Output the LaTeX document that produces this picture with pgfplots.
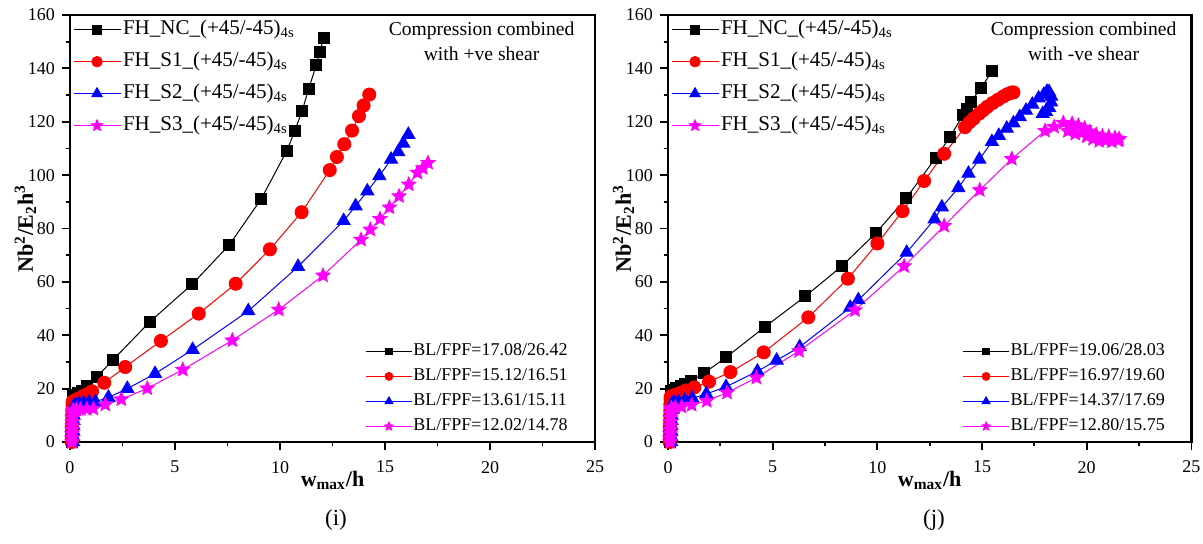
\documentclass[border=0pt]{standalone}
\usepackage{pgfplots}
\pgfplotsset{compat=1.18}
\usepackage{fontspec}
\setmainfont{Liberation Serif}

\definecolor{mag}{RGB}{255,0,255}
\definecolor{pred}{RGB}{255,0,0}
\definecolor{pblue}{RGB}{0,0,255}

% filled five-point star
\pgfdeclareplotmark{fstar}{%
  \pgfpathmoveto{\pgfpointpolar{90}{\pgfplotmarksize}}%
  \pgfpathlineto{\pgfpointpolar{126}{0.45\pgfplotmarksize}}%
  \pgfpathlineto{\pgfpointpolar{162}{\pgfplotmarksize}}%
  \pgfpathlineto{\pgfpointpolar{198}{0.45\pgfplotmarksize}}%
  \pgfpathlineto{\pgfpointpolar{234}{\pgfplotmarksize}}%
  \pgfpathlineto{\pgfpointpolar{270}{0.45\pgfplotmarksize}}%
  \pgfpathlineto{\pgfpointpolar{306}{\pgfplotmarksize}}%
  \pgfpathlineto{\pgfpointpolar{342}{0.45\pgfplotmarksize}}%
  \pgfpathlineto{\pgfpointpolar{18}{\pgfplotmarksize}}%
  \pgfpathlineto{\pgfpointpolar{54}{0.45\pgfplotmarksize}}%
  \pgfpathclose
  \pgfusepathqfillstroke
}

\tikzset{
  nc/.style={black, line width=0.5pt, mark=square*, mark size=2.75pt},
  s1/.style={pred, line width=0.5pt, mark=*, mark size=3.25pt},
  s2/.style={pblue, line width=0.5pt, mark=triangle*, mark size=3.7pt},
  s3/.style={mag, line width=0.5pt, mark=fstar, mark size=3.6pt},
}

\pgfplotsset{
  frame/.style={
    scale only axis, width=#1, height=213.5pt,
    xmin=0, xmax=25, ymin=0, ymax=160,
  },
  panel/.style={
    frame=#1,
    xtick={0,5,...,25}, ytick={0,20,...,160},
    minor x tick num=1, minor y tick num=1,
    tick align=outside, xtick pos=bottom, ytick pos=left,
    major tick length=4pt, minor tick length=2.2pt,
    every tick/.style={black, line width=0.9pt},
    axis line style={line width=1.2pt},
    tick label style={font=\fontsize{9}{10}\selectfont},
    xticklabel style={yshift=-2pt},
    /pgf/number format/assume math mode=true,
    xlabel={\textbf{w\textsubscript{max}/h}},
    ylabel={\textbf{Nb\textsuperscript{2}/E\textsubscript{2}h\textsuperscript{3}}},
    label style={font=\fontsize{11}{13}\selectfont},
    xlabel style={at={(axis description cs:0.5,-0.09)}, anchor=center},
    ylabel style={at={(axis description cs:-0.085,0.5)}, anchor=center},
    legend cell align=left,
    legend image code/.code={\draw[mark repeat=2,mark phase=2,##1,every mark/.append style={scale=0.8}]
      plot coordinates {(0pt,0pt) (11.75pt,0pt) (23.5pt,0pt)};},
    legend style={draw=none, fill=none, at={(axis description cs:0.005,0.997)},
      anchor=north west, inner sep=0pt, row sep=3pt,
      font=\fontsize{10.5}{12}\selectfont,
      nodes={inner sep=1pt, text height=8pt, text depth=3pt}},
  },
  legtwo/.style={
    frame=#1, hide axis,
    legend cell align=left,
    legend image code/.code={\draw[mark repeat=2,mark phase=2,##1,every mark/.append style={scale=0.6}]
      plot coordinates {(0pt,0pt) (11.5pt,0pt) (23pt,0pt)};},
    legend style={draw=none, fill=none, at={(axis description cs:0.562,0.011)},
      anchor=south west, inner sep=0pt, row sep=2pt,
      font=\fontsize{9}{11}\selectfont,
      nodes={inner sep=0.5pt, text height=7pt, text depth=2.5pt}},
  },
}

\begin{document}
\begin{tikzpicture}
\useasboundingbox (0,0) rectangle (601.5pt,271.5pt);

% ---------------- (i) +ve shear ----------------
\begin{axis}[panel=262.5pt, at={(35pt,50.5pt)}, anchor=south west]
\addplot[nc] coordinates {
 (0.08,0)(0.08,2)(0.09,4)(0.09,6)(0.1,8)(0.1,10)(0.11,12)(0.11,14)(0.12,16)(0.14,17.08)
 (0.25,17.6)(0.38,18.2)(0.55,19.2)(0.79,21.1)(1.27,24.3)(2.05,30.8)(3.81,45.1)
 (5.83,59.2)(7.59,73.9)(9.1,91.0)(10.33,109.2)(10.7,116.5)(11.06,124.2)(11.36,132.2)
 (11.73,141.3)(11.9,146.2)(12.08,151.4)};
\addlegendentry{FH\_NC\_(+45/-45)\textsubscript{4s}}
\addplot[s1] coordinates {
 (0.08,0)(0.08,2)(0.09,4)(0.09,6)(0.1,8)(0.1,10)(0.11,12)(0.12,14)(0.13,15.12)
 (0.25,15.7)(0.4,16.3)(0.6,17.1)(0.8,17.9)(1.05,19.0)(1.63,22.2)(2.63,28.1)(4.33,37.9)
 (6.13,48.1)(7.89,59.3)(9.52,72.2)(11.03,86.1)(12.37,101.9)(12.71,106.8)(13.06,111.6)
 (13.43,116.7)(13.76,122.1)(13.98,126.1)(14.25,130.2)};
\addlegendentry{FH\_S1\_(+45/-45)\textsubscript{4s}}
\addplot[s2] coordinates {
 (0.15,0)(0.15,2)(0.16,4)(0.16,6)(0.17,8)(0.17,10)(0.18,12)(0.2,13.61)
 (0.3,13.9)(0.45,14.2)(0.65,14.5)(0.9,14.8)(1.21,15.1)(1.83,16.7)(2.73,20)(4.05,25.6)
 (5.84,34.6)(8.49,49.1)(10.86,65.7)(13.03,82.9)(13.6,88.4)(14.16,94)(14.73,99.7)
 (15.29,105.9)(15.63,108.7)(15.87,111.9)(16.11,115.2)};
\addlegendentry{FH\_S2\_(+45/-45)\textsubscript{4s}}
\addplot[s3] coordinates {
 (0.1,0)(0.1,1.5)(0.1,3)(0.11,4.5)(0.11,6)(0.12,7.5)(0.12,9)(0.13,10.5)(0.14,11.5)(0.16,12.02)
 (0.3,12.2)(0.5,12.3)(0.8,12.4)(1.11,12.5)(1.68,14)(2.44,16)(3.68,20.1)(5.37,27.1)
 (7.73,38.1)(9.94,49.6)(12.05,62.4)(13.86,75.8)(14.3,79.6)(14.76,83.6)(15.21,87.9)
 (15.67,92.1)(16.13,96.5)(16.54,100.9)(16.8,102.6)(17.05,104.6)};
\addlegendentry{FH\_S3\_(+45/-45)\textsubscript{4s}}
\node[align=center, anchor=north, inner sep=0pt, font=\fontsize{9.8}{12.5}\selectfont]
  at (axis description cs:0.784,0.984) {Compression combined\\with +ve shear};
\end{axis}
\begin{axis}[legtwo=262.5pt, at={(35pt,50.5pt)}, anchor=south west]
\addlegendimage{nc}\addlegendentry{BL/FPF=17.08/26.42}
\addlegendimage{s1}\addlegendentry{BL/FPF=15.12/16.51}
\addlegendimage{s2}\addlegendentry{BL/FPF=13.61/15.11}
\addlegendimage{s3}\addlegendentry{BL/FPF=12.02/14.78}
\end{axis}
\node[font=\fontsize{11.5}{13}\selectfont] at (168pt,11.5pt) {(i)};

% ---------------- (j) -ve shear ----------------
\begin{axis}[panel=261.7pt, at={(334pt,50.5pt)}, anchor=south west]
\addplot[nc] coordinates {
 (0.08,0)(0.08,2)(0.09,4)(0.09,6)(0.1,8)(0.1,10)(0.11,12)(0.11,14)(0.12,16)(0.12,18)(0.14,19.06)
 (0.25,19.5)(0.4,20.1)(0.6,20.9)(0.8,21.6)(1.08,22.7)(1.7,25.7)(2.77,31.7)(4.62,43.1)
 (6.56,54.6)(8.3,65.9)(9.92,78.2)(11.39,91.5)(12.79,106.5)(13.47,114.3)(14.09,122.5)
 (14.27,124.7)(14.45,127.3)(14.94,132.5)(15.47,138.9)};
\addlegendentry{FH\_NC\_(+45/-45)\textsubscript{4s}}
\addplot[s1] coordinates {
 (0.08,0)(0.08,2)(0.09,4)(0.09,6)(0.1,8)(0.1,10)(0.11,12)(0.11,14)(0.12,16)(0.13,16.97)
 (0.25,17.4)(0.4,17.8)(0.6,18.4)(0.85,19.3)(1.26,20.5)(1.96,22.6)(2.98,26.2)(4.57,33.6)
 (6.7,46.7)(8.59,61.2)(10.0,74.4)(11.2,86.5)(12.23,97.8)(13.19,108)(14.19,118)
 (14.4,119.8)(14.6,121.2)(14.85,123)(15.05,124.3)(15.25,125.6)(15.5,127)(15.75,128.2)
 (16.0,129.4)(16.2,130.3)(16.4,130.9)(16.5,131.0)};
\addlegendentry{FH\_S1\_(+45/-45)\textsubscript{4s}}
\addplot[s2] coordinates {
 (0.15,0)(0.15,2)(0.16,4)(0.16,6)(0.17,8)(0.17,10)(0.18,12)(0.19,13.5)(0.2,14.37)
 (0.3,14.7)(0.5,15)(0.8,15.6)(1.16,16.4)(1.83,18)(2.77,20.7)(4.27,26.5)(5.19,30.6)
 (6.29,35.6)(8.7,50.4)(9.09,53.2)(11.4,71)(12.73,83.5)(13.08,88)(13.87,95.2)(14.35,100.6)
 (14.87,105.9)(15.47,112.5)(15.8,114.8)(16.18,117.5)(16.5,119.5)(16.8,121.8)(17.1,124.2)
 (17.4,126.5)(17.7,128.8)(17.95,130.2)(18.1,131.3)(18.2,131.2)(18.3,129.5)(18.3,127.3)
 (18.2,125.3)(18.05,123.8)(17.9,123)};
\addlegendentry{FH\_S2\_(+45/-45)\textsubscript{4s}}
\addplot[s3] coordinates {
 (0.1,0)(0.1,1.5)(0.1,3)(0.11,4.5)(0.11,6)(0.12,7.5)(0.12,9)(0.13,10.5)(0.14,12)(0.16,12.8)
 (0.35,13)(0.65,13.2)(1.13,13.9)(1.85,15.4)(2.82,18.5)(4.22,24.1)(6.26,34.1)(8.93,49.4)
 (11.28,65.9)(13.19,81)(14.89,94.4)(16.42,106.1)(18.01,116.6)(18.44,118.1)(18.88,119.6)
 (19.1,116.5)(19.3,119.3)(19.45,115.5)(19.6,118.6)(19.75,115.8)(19.9,117.6)(20.0,114.5)
 (20.15,116.3)(20.3,113.6)(20.45,115.2)(20.6,112.8)(20.75,114.6)(20.9,113)(21.05,114.4)
 (21.2,112.6)(21.35,114)(21.5,113)(21.55,113.6)};
\addlegendentry{FH\_S3\_(+45/-45)\textsubscript{4s}}
\node[align=center, anchor=north, inner sep=0pt, font=\fontsize{9.8}{12.5}\selectfont]
  at (axis description cs:0.794,0.984) {Compression combined\\with -ve shear};
\end{axis}
\begin{axis}[legtwo=261.7pt, at={(334pt,50.5pt)}, anchor=south west]
\addlegendimage{nc}\addlegendentry{BL/FPF=19.06/28.03}
\addlegendimage{s1}\addlegendentry{BL/FPF=16.97/19.60}
\addlegendimage{s2}\addlegendentry{BL/FPF=14.37/17.69}
\addlegendimage{s3}\addlegendentry{BL/FPF=12.80/15.75}
\end{axis}
\node[font=\fontsize{11.5}{13}\selectfont] at (467pt,11.5pt) {(j)};
\end{tikzpicture}
\end{document}
